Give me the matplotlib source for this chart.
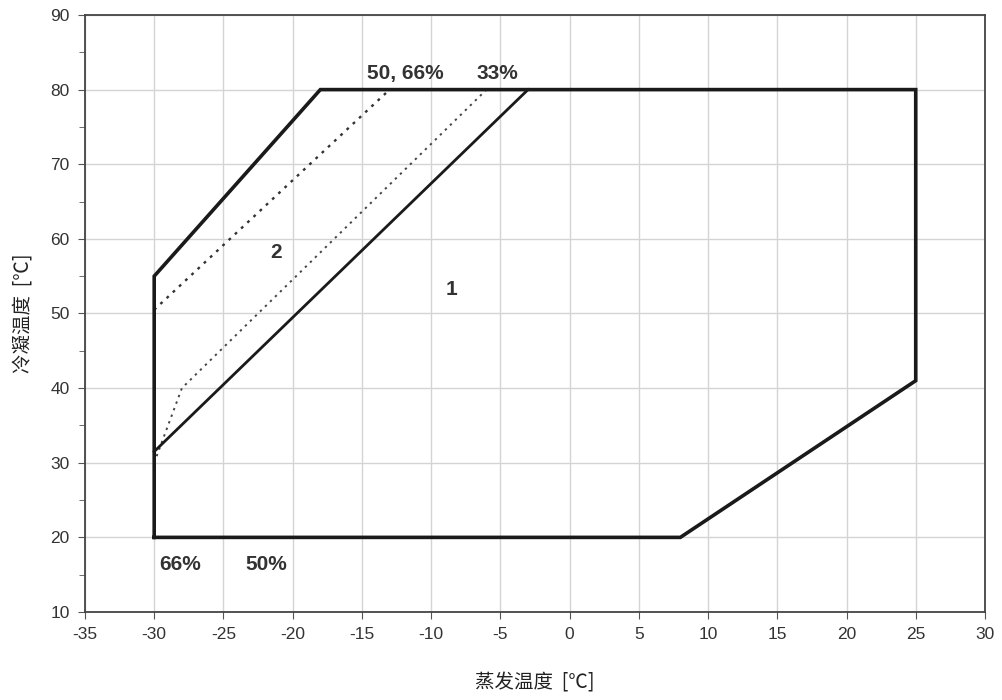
import matplotlib
matplotlib.use("Agg")
import matplotlib.pyplot as plt
from matplotlib.ticker import MultipleLocator

plt.rcParams['font.family'] = ['Liberation Sans', 'Noto Sans CJK SC', 'DejaVu Sans']
plt.rcParams['axes.unicode_minus'] = False

# Operating envelope (evaporating temp, condensing temp)
envelope_x = [-30, -30, -18, 25, 25, 8, -30]
envelope_y = [20, 55, 80, 80, 41, 20, 20]

# Boundary between area 1 and area 2
divider_x = [-30, -3]
divider_y = [31.5, 80]

# Capacity-step limits
limit_66_x = [-30, -13]
limit_66_y = [50.5, 80]
limit_33_x = [-30, -28, -6]
limit_33_y = [30, 40, 80]

# Annotations: (x, y, text)
labels = [
    (-11.9, 82.2, "50, 66%"),
    (-5.2, 82.2, "33%"),
    (-21.2, 58.2, "2"),
    (-8.5, 53.2, "1"),
    (-28.1, 16.4, "66%"),
    (-21.9, 16.4, "50%"),
]

fig = plt.figure(figsize=(10.02, 7.0), dpi=100)
ax = fig.add_axes([0.0848, 0.1257, 0.8982, 0.8529])

ax.set_xlim(-35, 30)
ax.set_ylim(10, 90)
ax.xaxis.set_major_locator(MultipleLocator(5))
ax.yaxis.set_major_locator(MultipleLocator(10))
ax.yaxis.set_minor_locator(MultipleLocator(5))
ax.grid(True, which='major', color='#d4d4d4', linewidth=1.0)
ax.set_axisbelow(True)

for s in ax.spines.values():
    s.set_color('#444444')
    s.set_linewidth(1.3)

ax.tick_params(axis='both', which='major', direction='out', length=5,
               color='#555555', labelsize=12.5, labelcolor='#333333', pad=6)
ax.tick_params(axis='y', which='minor', direction='out', length=4, color='#555555')
ax.tick_params(axis='x', which='minor', length=0)

ax.plot(envelope_x, envelope_y, color='#1a1a1a', linewidth=2.6,
        solid_joinstyle='miter', zorder=4)
ax.plot(divider_x, divider_y, color='#1a1a1a', linewidth=2.0, zorder=4)
ax.plot(limit_66_x, limit_66_y, color='#333333', linewidth=1.7,
        linestyle=(0, (1.2, 2.4)), zorder=3)
ax.plot(limit_33_x, limit_33_y, color='#444444', linewidth=1.4,
        linestyle=(0, (1.2, 2.4)), zorder=3)

for x, y, t in labels:
    ax.text(x, y, t, ha='center', va='center', fontsize=15,
            fontweight='bold', color='#333333', zorder=5)

ax.set_xlabel("蒸发温度  [℃]", fontsize=14, color='#222222', labelpad=22,
              family=['Noto Sans CJK SC', 'DejaVu Sans'])
ax.set_ylabel("冷凝温度  [℃]", fontsize=14, color='#222222', labelpad=12,
              family=['Noto Sans CJK SC', 'DejaVu Sans'])

fig.savefig("out.png", dpi=100, facecolor='white')
